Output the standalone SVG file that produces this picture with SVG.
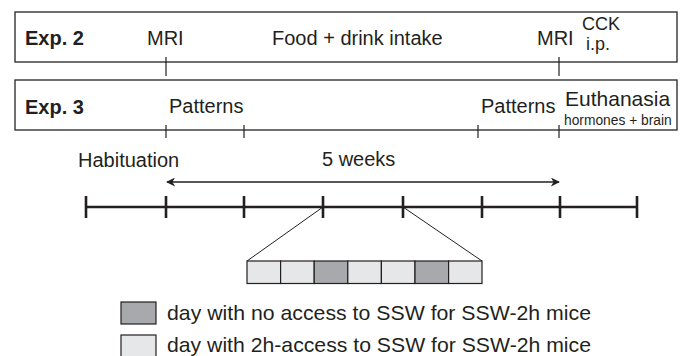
<svg xmlns="http://www.w3.org/2000/svg" width="683" height="356" viewBox="0 0 683 356">
<style>
text{font-family:"Liberation Sans",Arial,sans-serif;fill:#231f20;font-size:20px}
.b{font-weight:bold}
.box{fill:#fff;stroke:#333;stroke-width:1.4}
.tk{stroke:#231f20;stroke-width:1.2}
.tl{stroke:#231f20;stroke-width:2.6}
.thin{stroke:#231f20;stroke-width:1;fill:none}
.lt{fill:#e6e7e8;stroke:#231f20;stroke-width:1.2}
.dk{fill:#a7a9ac;stroke:#231f20;stroke-width:1.2}
.lg{font-size:21px}
</style>
<defs>
<marker id="ah" viewBox="0 0 10 10" refX="9" refY="5" markerWidth="9" markerHeight="9" markerUnits="userSpaceOnUse" orient="auto-start-reverse">
<path d="M0,0 L10,5 L0,10 L3,5 Z" fill="#231f20"/>
</marker>
</defs>
<g id="exp2">
<rect class="box" x="15" y="12" width="662" height="50"/>
<text class="b" x="25" y="45">Exp. 2</text>
<text x="147" y="45">MRI</text>
<text x="272" y="45">Food + drink intake</text>
<text x="537" y="45">MRI</text>
<text x="582" y="30" style="font-size:18px">CCK</text>
<text x="586" y="50" style="font-size:18px">i.p.</text>
</g>
<g id="exp3">
<rect class="box" x="15" y="80" width="662" height="50"/>
<text class="b" x="25" y="114">Exp. 3</text>
<text x="169" y="113">Patterns</text>
<text x="481" y="113">Patterns</text>
<text x="565" y="106" style="font-size:21px">Euthanasia</text>
<text x="564" y="125" style="font-size:13.8px">hormones + brain</text>
</g>
<g id="labels">
<text x="78" y="167">Habituation</text>
<text x="322" y="166">5 weeks</text>
</g>
<g id="connectors">
<line class="tk" x1="166" y1="57" x2="166" y2="76"/>
<line class="tk" x1="559" y1="57" x2="559" y2="76"/>
<line class="tk" x1="166" y1="125" x2="166" y2="138"/>
<line class="tk" x1="244" y1="125" x2="244" y2="138"/>
<line class="tk" x1="478" y1="125" x2="478" y2="138"/>
<line class="tk" x1="559" y1="125" x2="559" y2="138"/>
<line stroke="#231f20" stroke-width="1.3" x1="167" y1="182" x2="559" y2="182" marker-start="url(#ah)" marker-end="url(#ah)"/>
<line class="tl" x1="86" y1="207" x2="637" y2="207"/>
<g class="tl">
<line x1="86" y1="196" x2="86" y2="218"/>
<line x1="166" y1="196" x2="166" y2="218"/>
<line x1="244" y1="196" x2="244" y2="218"/>
<line x1="323" y1="196" x2="323" y2="218"/>
<line x1="403" y1="196" x2="403" y2="218"/>
<line x1="482" y1="196" x2="482" y2="218"/>
<line x1="560" y1="196" x2="560" y2="218"/>
<line x1="637" y1="196" x2="637" y2="218"/>
</g>
<line class="thin" x1="323" y1="207" x2="247" y2="261"/>
<line class="thin" x1="403" y1="207" x2="482" y2="261"/>
</g>
<g id="week">
<rect class="lt" x="247" y="261" width="33.6" height="22.5"/>
<rect class="lt" x="280.6" y="261" width="33.6" height="22.5"/>
<rect class="dk" x="314.2" y="261" width="33.6" height="22.5"/>
<rect class="lt" x="347.8" y="261" width="33.6" height="22.5"/>
<rect class="lt" x="381.4" y="261" width="33.6" height="22.5"/>
<rect class="dk" x="415" y="261" width="33.6" height="22.5"/>
<rect class="lt" x="448.6" y="261" width="33.4" height="22.5"/>
</g>
<g id="legend">
<rect class="dk" x="121" y="302" width="35" height="22"/>
<text class="lg" x="167" y="320" textLength="424" lengthAdjust="spacingAndGlyphs">day with no access to SSW for SSW-2h mice</text>
<rect class="lt" x="121" y="335" width="35" height="24"/>
<text class="lg" x="167" y="352" textLength="424" lengthAdjust="spacingAndGlyphs">day with 2h-access to SSW for SSW-2h mice</text>
</g>
</svg>
